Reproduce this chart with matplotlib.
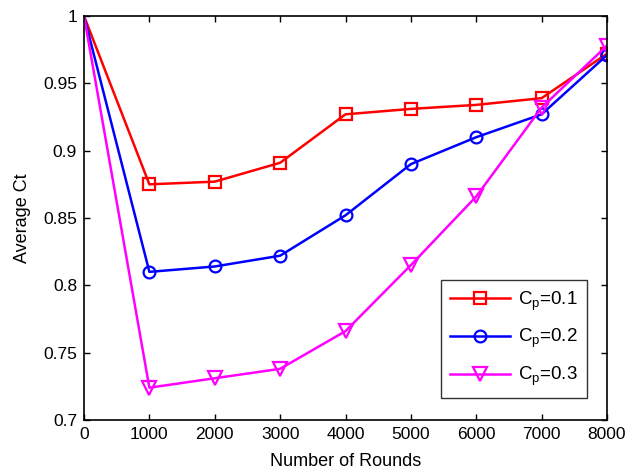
import matplotlib
matplotlib.use("Agg")
import matplotlib.pyplot as plt

plt.rcParams['font.family'] = ['Liberation Sans', 'DejaVu Sans']
plt.rcParams['mathtext.fontset'] = 'custom'
plt.rcParams['mathtext.rm'] = 'Liberation Sans'
plt.rcParams['mathtext.it'] = 'Liberation Sans'

rounds = [0, 1000, 2000, 3000, 4000, 5000, 6000, 7000, 8000]
cp01 = [1.0, 0.875, 0.877, 0.891, 0.927, 0.931, 0.934, 0.939, 0.972]
cp02 = [1.0, 0.810, 0.814, 0.822, 0.852, 0.890, 0.910, 0.927, 0.971]
cp03 = [1.0, 0.724, 0.731, 0.738, 0.766, 0.815, 0.866, 0.932, 0.978]
labels = [r'C$_\mathregular{p}$=0.1', r'C$_\mathregular{p}$=0.2', r'C$_\mathregular{p}$=0.3']

fig = plt.figure(figsize=(6.3, 4.71), dpi=100)
ax = fig.add_axes([84/630, 51/471, 523/630, 404/471])

me = list(range(1, len(rounds)))
ax.plot(rounds, cp01, color='#ff0000', lw=1.8, marker='s', ms=8.5, mfc='none', mew=1.6,
        markevery=me, label=labels[0])
ax.plot(rounds, cp02, color='#0000ff', lw=1.8, marker='o', ms=8.5, mfc='none', mew=1.6,
        markevery=me, label=labels[1])
ax.plot(rounds, cp03, color='#ff00ff', lw=1.8, marker='v', ms=10, mfc='none', mew=1.6,
        markevery=me, label=labels[2])

ax.set_xlim(0, 8000)
ax.set_ylim(0.7, 1.0)
ax.set_xticks(rounds)
ax.set_xticklabels([str(r) for r in rounds])
yt = [0.7, 0.75, 0.8, 0.85, 0.9, 0.95, 1.0]
ax.set_yticks(yt)
ax.set_yticklabels(['0.7', '0.75', '0.8', '0.85', '0.9', '0.95', '1'])
ax.tick_params(direction='in', top=True, right=True, labelsize=12.5, length=4, width=1, pad=5)
for s in ax.spines.values():
    s.set_linewidth(1.2)

ax.set_xlabel('Number of Rounds', fontsize=13, labelpad=8)
ax.set_ylabel('Average Ct', fontsize=13, labelpad=9)

leg = ax.legend(loc='lower right', bbox_to_anchor=(586.7/630, (471-397.7)/471),
                bbox_transform=fig.transFigure, fontsize=13.5, frameon=True, fancybox=False,
                edgecolor='black', handlelength=3.2, borderpad=0.5, labelspacing=0.78,
                handletextpad=0.4, borderaxespad=0)
leg.get_frame().set_linewidth(1.0)

fig.savefig('out.png', dpi=100)
